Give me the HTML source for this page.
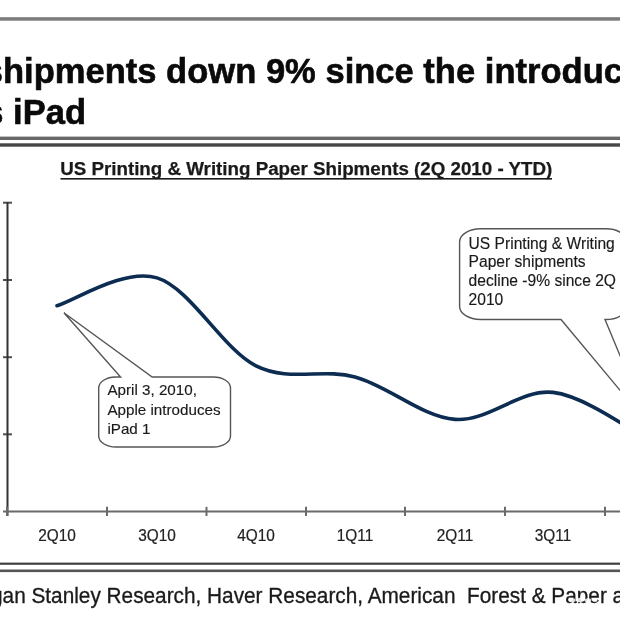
<!DOCTYPE html>
<html><head><meta charset="utf-8"><style>
html,body{margin:0;padding:0;background:#fff;}
body{width:620px;height:620px;overflow:hidden;position:relative;}
svg{position:absolute;left:0;top:0;filter:blur(0.35px);}
text{font-family:"Liberation Sans",Arial,sans-serif;}
</style></head><body>
<svg width="620" height="620" viewBox="0 0 620 620">
<rect width="620" height="620" fill="#fff"/>
<rect x="0" y="17.2" width="620" height="3.5" fill="#7c7c7c"/>
<rect x="0" y="136.6" width="620" height="3.4" fill="#686868"/>
<rect x="0" y="143.3" width="620" height="3.4" fill="#474747"/>
<text font-weight="bold" font-size="34.55" fill="#0a0a0a" stroke="#0a0a0a" stroke-width="0.6"><tspan x="-16.25" y="82.6">shipments down 9% since the introduction</tspan><tspan x="-15.7" y="123.9">s iPad</tspan></text>
<text x="60.2" y="175.4" font-weight="bold" font-size="18.75" fill="#1a1a1a" stroke="#1a1a1a" stroke-width="0.25">US Printing &amp; Writing Paper Shipments (2Q 2010 - YTD)</text>
<rect x="60.5" y="178" width="491.5" height="1.6" fill="#1a1a1a"/>
<g stroke="#505050" stroke-width="2" fill="none"><line x1="3" y1="202.7" x2="12" y2="202.7"/><line x1="3" y1="280" x2="12" y2="280"/><line x1="3" y1="357.2" x2="12" y2="357.2"/><line x1="3" y1="434.3" x2="12" y2="434.3"/></g>
<line x1="7.5" y1="202" x2="7.5" y2="516" stroke="#333" stroke-width="2"/>
<g stroke="#6a6a6a" stroke-width="2" fill="none">
<line x1="3" y1="511.5" x2="620" y2="511.5"/>
<line x1="7" y1="506.8" x2="7" y2="516"/><line x1="107" y1="506.8" x2="107" y2="516"/><line x1="206.5" y1="506.8" x2="206.5" y2="516"/><line x1="306" y1="506.8" x2="306" y2="516"/><line x1="405" y1="506.8" x2="405" y2="516"/><line x1="505" y1="506.8" x2="505" y2="516"/><line x1="605" y1="506.8" x2="605" y2="516"/>
</g>
<g font-size="15.4" fill="#222" stroke="#222" stroke-width="0.2" text-anchor="middle"><text x="57" y="540.8" transform="matrix(1,0,0,1.1,0,-54.08)">2Q10</text><text x="157" y="540.8" transform="matrix(1,0,0,1.1,0,-54.08)">3Q10</text><text x="256" y="540.8" transform="matrix(1,0,0,1.1,0,-54.08)">4Q10</text><text x="355" y="540.8" transform="matrix(1,0,0,1.1,0,-54.08)">1Q11</text><text x="455" y="540.8" transform="matrix(1,0,0,1.1,0,-54.08)">2Q11</text><text x="553" y="540.8" transform="matrix(1,0,0,1.1,0,-54.08)">3Q11</text><text x="652" y="540.8" transform="matrix(1,0,0,1.1,0,-54.08)">4Q11</text></g>
<path d="M57.0,305.7 C73.7,301.1 123.8,267.9 157.0,277.9 C190.2,287.9 223.0,349.4 256.0,365.9 C289.0,382.4 321.8,368.0 355.0,376.9 C388.2,385.8 422.0,416.8 455.0,419.4 C488.0,422.0 520.2,388.7 553.0,392.4 C585.8,396.1 635.5,433.6 652.0,441.8" fill="none" stroke="#0c2c52" stroke-width="3.6" stroke-linecap="round"/>
<path d="M63.9,312.8 L120.6,377 L115.7,377 A17,11 0 0 0 98.7,388 L98.7,436 A17,11 0 0 0 115.7,447 L213.5,447 A17,11 0 0 0 230.5,436 L230.5,388 A17,11 0 0 0 213.5,377 L152.2,377 Z" fill="#fff" stroke="#555" stroke-width="1.4"/>
<g font-size="15.2" fill="#1a1a1a" stroke="#1a1a1a" stroke-width="0.15"><text x="107.4" y="395.2" transform="matrix(1,0,0,0.97,0,11.86)">April 3, 2010,</text><text x="107.4" y="414.5" transform="matrix(1,0,0,0.97,0,12.44)">Apple introduces</text><text x="107.4" y="433.9" transform="matrix(1,0,0,0.97,0,13.02)">iPad 1</text></g>
<path d="M649,425 L561,319.5 L480.6,319.5 A21,13 0 0 1 459.6,306.5 L459.6,241.8 A21,13 0 0 1 480.6,228.8 L606,228.8 A21,13 0 0 1 627,241.8 L627,306.5 A21,13 0 0 1 606,319.5 L605,319.5 Z" fill="#fff" stroke="#555" stroke-width="1.4"/>
<g font-size="15.6" fill="#1a1a1a" stroke="#1a1a1a" stroke-width="0.15"><text x="468.6" y="248.6" transform="matrix(1,0,0,1.0,0,0.00)">US Printing &amp; Writing</text><text x="468.6" y="266.8" transform="matrix(1,0,0,1.0,0,0.00)">Paper shipments</text><text x="468.6" y="285.7" transform="matrix(1,0,0,1.0,0,0.00)">decline -9% since 2Q</text><text x="468.6" y="304.8" transform="matrix(1,0,0,1.0,0,0.00)">2010</text></g>
<rect x="0" y="562.6" width="620" height="2.2" fill="#404040"/>
<rect x="0" y="569.5" width="620" height="2.6" fill="#555"/>
<text x="-44.8" y="602.9" transform="matrix(1,0,0,1.05,0,-30.15)" font-size="20.8" fill="#1a1a1a" stroke="#1a1a1a" stroke-width="0.3" xml:space="preserve">Morgan Stanley Research, Haver Research, American  Forest &amp; Paper and</text>
<rect x="576.5" y="603.2" width="6" height="7" fill="#fff"/>
<g fill="#fff" opacity="0.85"><ellipse cx="572" cy="600.2" rx="3.2" ry="2.2"/><ellipse cx="580" cy="600" rx="3" ry="2.3"/><ellipse cx="588" cy="600.4" rx="3.2" ry="2.1"/><ellipse cx="595" cy="600" rx="2.6" ry="2"/></g>
</svg>
</body></html>
